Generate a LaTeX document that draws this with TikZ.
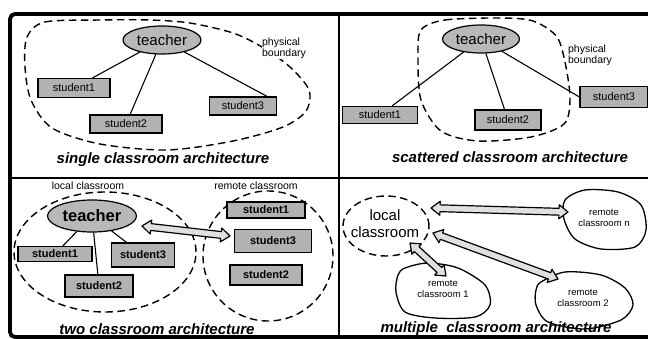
\documentclass[tikz,border=0pt]{standalone}
\usepackage{fontspec}
\setmainfont{Liberation Sans}
\usetikzlibrary{calc,shapes.geometric}
\newcommand\hollowarr[2]{%
  \coordinate (hA) at ($(#1)!9pt!(#2)$);
  \coordinate (hB) at ($(#2)!9pt!(#1)$);
  \filldraw[harrow] (#1) -- ($(hA)!7pt!90:(#2)$) -- ($(hA)!3.4pt!90:(#2)$)
    -- ($(hB)!3.4pt!-90:(#1)$) -- ($(hB)!7pt!-90:(#1)$) -- (#2)
    -- ($(hB)!7pt!90:(#1)$) -- ($(hB)!3.4pt!90:(#1)$)
    -- ($(hA)!3.4pt!-90:(#2)$) -- ($(hA)!7pt!-90:(#2)$) -- cycle;}
\begin{document}
\begin{tikzpicture}[x=1pt,y=-1pt,
  box/.style={draw, line width=1.2pt, fill=black!30, inner sep=0pt, font=\fontsize{11}{12}\selectfont},
  tch/.style={draw, ellipse, line width=1.2pt, fill=black!28, inner sep=0pt},
  bound/.style={draw, line width=1.4pt, dash pattern=on 7.5pt off 4.5pt},
  captext/.style={font=\fontsize{15}{16}\selectfont\bfseries\itshape, inner sep=0pt},
  lbl/.style={font=\fontsize{10.5}{11}\selectfont, inner sep=0.5pt, align=left},
  blob/.style={draw, line width=1.3pt},
  blobtxt/.style={font=\fontsize{9.5}{11}\selectfont, inner sep=0pt, align=center},
  harrow/.style={draw, line width=1.2pt, fill=black!12, line join=round},
  link/.style={line width=1.1pt},
  divider/.style={line width=1.5pt}]
\useasboundingbox (0,0) rectangle (648,339);
\clip (0,0) rectangle (648,339);
\fill[white] (0,0) rectangle (648,339);
% frame and dividers
\draw[line width=3.8pt, rounded corners=5pt] (10,14) rectangle (660,337);
\draw[divider] (339,14) -- (339,337);
\draw[divider] (10,178) -- (648,178);

% ---------- single classroom ----------
\draw[bound] plot[smooth cycle] coordinates {(27,37) (45,22) (100,20) (150,20) (190,23) (233,33) (262,47) (290,67) (309,90) (306,111) (283,127) (233,141) (167,150) (100,144) (52,128) (31,100) (25,67)};
\node[tch, minimum width=78pt, minimum height=28pt, font=\fontsize{15}{16}\selectfont] (t1) at (162,40) {teacher};
\node[box, minimum width=72pt, minimum height=19pt] (a1) at (74,88) {student1};
\node[box, minimum width=72pt, minimum height=18pt] (a2) at (126,124) {student2};
\node[box, minimum width=67pt, minimum height=18pt] (a3) at (243,106) {student3};
\draw[link] (t1) -- (a1);
\draw[link] (t1) -- (a2);
\draw[link] (t1) -- ([xshift=-10pt]a3.north east);
\node[lbl, fill=white] (pb1) at (284,48) {physical\\boundary};
\node[captext] (c1) at (163,160) {single classroom architecture};

% ---------- scattered classroom ----------
\draw[bound] plot[smooth cycle] coordinates {(421,30) (445,20) (500,18) (533,21) (557,37) (566,67) (570,100) (564,124) (531,137) (478,141) (441,131) (421,100) (418,57)};
\node[tch, minimum width=77pt, minimum height=28pt, font=\fontsize{15}{16}\selectfont] (t2) at (481,39) {teacher};
\node[box, minimum width=75pt, minimum height=17pt] (b1) at (380,115) {student1};
\node[box, minimum width=66pt, minimum height=20pt] (b2) at (508,120) {student2};
\node[box, minimum width=68pt, minimum height=21pt] (b3) at (614,97) {student3};
\draw[link] (t2) -- (b1);
\draw[link] (t2) -- (b2);
\draw[link] (t2) -- (b3.west);
\node[lbl, fill=white] (pb2) at (590,55) {physical\\boundary};
\node[captext] (c2) at (510,157) {scattered classroom architecture};

% ---------- two classroom ----------
\node[bound, ellipse, minimum width=182pt, minimum height=120pt] (lb) at (105,252) {};
\node[bound, ellipse, minimum width=130pt, minimum height=130pt] (rb) at (268,256) {};
\node[lbl] (llb) at (88,186) {local classroom};
\node[lbl] (rlb) at (256,186) {remote classroom};
\node[tch, minimum width=89pt, minimum height=32pt, font=\fontsize{16.5}{17}\selectfont\bfseries] (t3) at (92,216) {teacher};
\node[box, minimum width=74pt, minimum height=15pt, font=\fontsize{11}{12}\selectfont\bfseries] (d1) at (55,254) {student1};
\node[box, minimum width=68pt, minimum height=22pt, font=\fontsize{11}{12}\selectfont\bfseries] (d2) at (99,286) {student2};
\node[box, minimum width=63pt, minimum height=24pt, font=\fontsize{11}{12}\selectfont\bfseries] (d3) at (143,255) {student3};
\draw[link] (t3) -- (d1);
\draw[link] (t3) -- (d2);
\draw[link] (t3) -- (d3);
\node[box, minimum width=78pt, minimum height=16pt, font=\fontsize{11}{12}\selectfont\bfseries] (e1) at (266,210) {student1};
\node[box, minimum width=77pt, minimum height=23pt, font=\fontsize{11}{12}\selectfont\bfseries] (e3) at (273,241) {student3};
\node[box, minimum width=72pt, minimum height=20pt, font=\fontsize{11}{12}\selectfont\bfseries] (e2) at (266,275) {student2};
\coordinate (q1) at (142,226);
\coordinate (q2) at (230,236);
\hollowarr{q1}{q2}
\node[captext] (c3) at (157,329) {two classroom architecture};

% ---------- multiple classroom ----------
\node[bound, ellipse, minimum width=86pt, minimum height=60pt] (lc) at (386,226) {};
\node[font=\fontsize{15}{17}\selectfont, align=center, inner sep=0pt] (lct) at (385,224) {local\\classroom};
\draw[blob] plot[smooth cycle] coordinates {(565,200) (585,190) (618,192) (641,205) (646,230) (635,247) (601,249) (575,239) (564,219)};
\node[blobtxt] (rn) at (604,218) {remote\\classroom n};
\draw[blob] plot[smooth cycle] coordinates {(405,268) (428,263) (458,268) (485,285) (490,305) (475,317) (435,318) (405,312) (396,292) (398,275)};
\node[blobtxt] (r1) at (443,289) {remote\\classroom 1};
\draw[blob] plot[smooth cycle] coordinates {(541,282) (565,272) (601,275) (625,288) (633,305) (621,320) (585,329) (548,322) (536,305) (536,290)};
\node[blobtxt] (r2) at (583,298) {remote\\classroom 2};
\coordinate (ua1) at (431,208);
\coordinate (ua2) at (568,212);
\coordinate (ub1) at (433,233);
\coordinate (ub2) at (558,279);
\coordinate (uc1) at (410,243);
\coordinate (uc2) at (446,276);
\hollowarr{ua1}{ua2}
\hollowarr{ub1}{ub2}
\hollowarr{uc1}{uc2}
\node[captext] (c4) at (496,329) {multiple\ \ classroom architecture};
\end{tikzpicture}
\end{document}
